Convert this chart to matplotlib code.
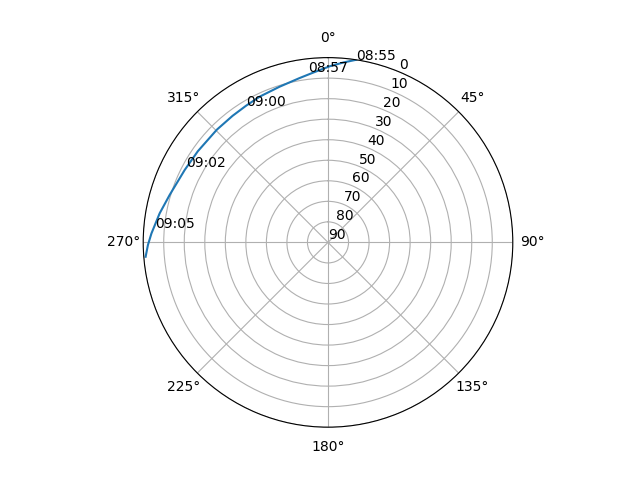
import numpy as np
import matplotlib
matplotlib.use("Agg")
import matplotlib.pyplot as plt

# satellite pass track (azimuth deg, elevation deg), in time order
track_az = [8.8, 5.0, 0.6, 355.0, 350.1, 342.7, 335.0, 329.0, 323.0, 315.4,
            305.0, 296.8, 286.7, 279.8, 272.9, 269.2, 265.5]
track_el = [0.0, 2.0, 4.2, 7.0, 8.8, 10.6, 11.6, 12.4, 12.8, 12.9,
            12.6, 11.8, 9.5, 6.8, 3.9, 2.3, 0.9]

# time labels along the track
label_times = ["08:55", "08:57", "09:00", "09:02", "09:05"]
label_az = [8.8, 353.3, 328.9, 298.1, 274.9]
label_el = [0.0, 6.6, 12.5, 11.8, 5.7]

fig = plt.figure(figsize=(6.4, 4.8), dpi=100)
ax = fig.add_subplot(111, projection="polar")
ax.set_theta_zero_location("N")
ax.set_theta_direction(-1)

theta = np.unwrap(np.radians(track_az))
ax.plot(theta, track_el)

for t, a, e in zip(label_times, label_az, label_el):
    ax.text(np.radians(a), e, t)

ax.set_rlim(90, 0)
ax.set_yticks(range(0, 91, 10))

fig.savefig("out.png")
